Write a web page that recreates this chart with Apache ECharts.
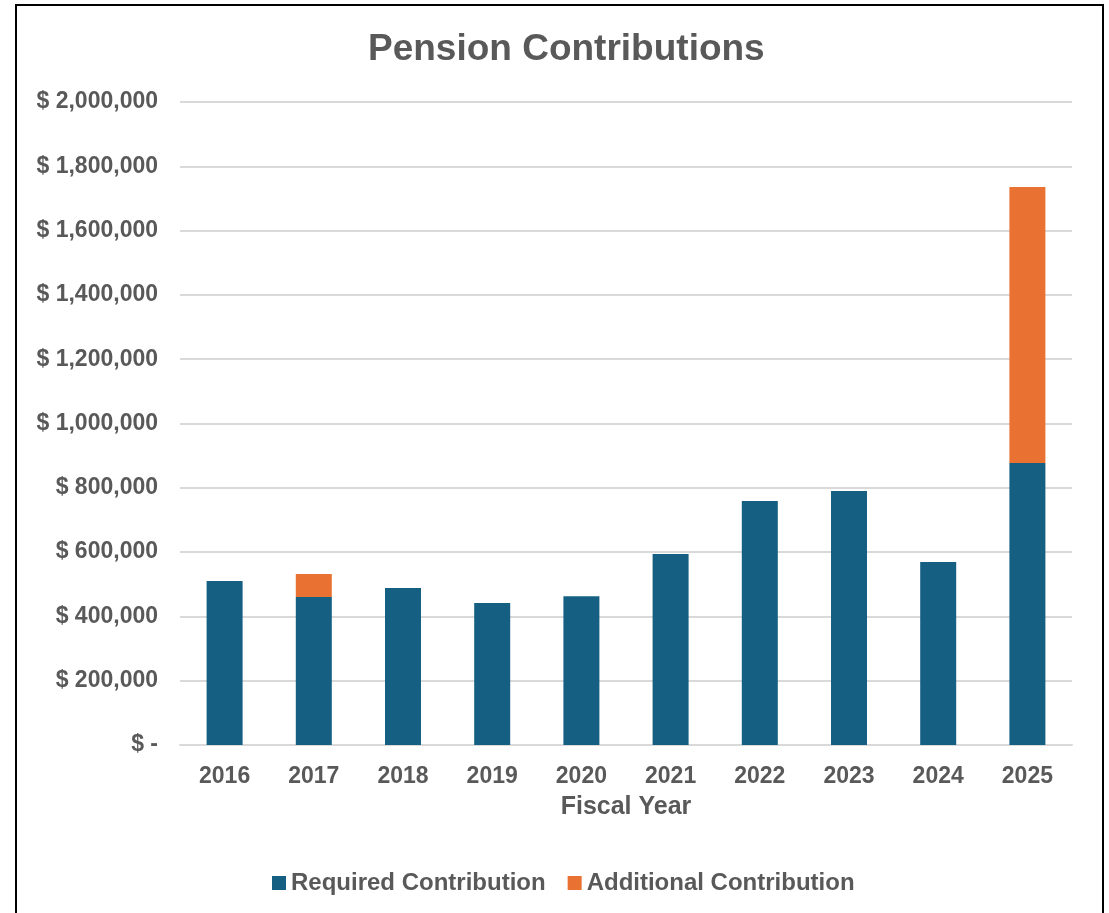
<!DOCTYPE html>
<html>
<head>
<meta charset="utf-8">
<script src="https://cdn.jsdelivr.net/npm/echarts@6/dist/echarts.min.js"></script>
<style>
  html, body { margin: 0; padding: 0; background: #fff; }
  #wrap { position: absolute; left: 0; top: 0; width: 1109px; height: 913px; }
  #frame { position: absolute; left: 15px; top: 4px; width: 1089px; height: 920px;
           border-left: 2px solid #000; border-top: 2px solid #000; border-right: 2px solid #000; box-sizing: border-box; }
  #chart { position: absolute; left: 0; top: 0; width: 1109px; height: 913px; }
</style>
</head>
<body>
<div id="wrap">
  <div id="frame"></div>
  <div id="chart"></div>
</div>
<script>
// Fiscal years and contribution amounts (USD)
const fiscalYears = ['2016', '2017', '2018', '2019', '2020', '2021', '2022', '2023', '2024', '2025'];
const requiredContribution = [510000, 460000, 488000, 442000, 463000, 594000, 759000, 790000, 569000, 877000];
const additionalContribution = [0, 72000, 0, 0, 0, 0, 0, 0, 0, 859000];
const yTicks = { min: 0, max: 2000000, interval: 200000 };

const textColor = '#595959';
const fontFamily = '"Liberation Sans", Arial, sans-serif';

const chart = echarts.init(document.getElementById('chart'), null, { renderer: 'canvas' });

function money(v) {
  return v === 0 ? '$ -' : '$ ' + v.toLocaleString('en-US');
}

chart.setOption({
  animation: false,
  textStyle: { fontFamily: fontFamily },
  title: {
    text: 'Pension Contributions',
    left: 363,
    top: 26,
    textStyle: { color: textColor, fontSize: 37, fontWeight: 'bold', fontFamily: fontFamily }
  },
  legend: {
    top: 866,
    left: 267,
    itemWidth: 14,
    itemHeight: 14,
    itemGap: 22,
    icon: 'rect',
    textStyle: { color: textColor, fontSize: 24, fontWeight: 'bold', fontFamily: fontFamily },
    data: ['Required Contribution', 'Additional Contribution']
  },
  grid: { left: 180, right: 37, top: 102, bottom: 168, containLabel: false },
  xAxis: {
    type: 'category',
    data: fiscalYears,
    name: 'Fiscal Year',
    nameLocation: 'middle',
    nameGap: 50,
    nameTextStyle: { color: textColor, fontSize: 25, fontWeight: 'bold', fontFamily: fontFamily },
    axisLine: { show: true, lineStyle: { color: '#D9D9D9', width: 2 } },
    axisTick: { show: false },
    axisLabel: { color: textColor, fontSize: 23, fontWeight: 'bold', margin: 20, fontFamily: fontFamily }
  },
  yAxis: {
    type: 'value',
    min: yTicks.min,
    max: yTicks.max,
    interval: yTicks.interval,
    axisLine: { show: false },
    axisTick: { show: false },
    splitLine: { lineStyle: { color: '#D9D9D9', width: 2 } },
    axisLabel: { color: textColor, fontSize: 23, fontWeight: 'bold', margin: 22, fontFamily: fontFamily, formatter: money }
  },
  series: [
    {
      name: 'Required Contribution',
      type: 'bar',
      stack: 'total',
      barWidth: 36,
      itemStyle: { color: '#156082' },
      data: requiredContribution
    },
    {
      name: 'Additional Contribution',
      type: 'bar',
      stack: 'total',
      barWidth: 36,
      itemStyle: { color: '#E97132' },
      data: additionalContribution
    }
  ]
});
</script>
</body>
</html>
